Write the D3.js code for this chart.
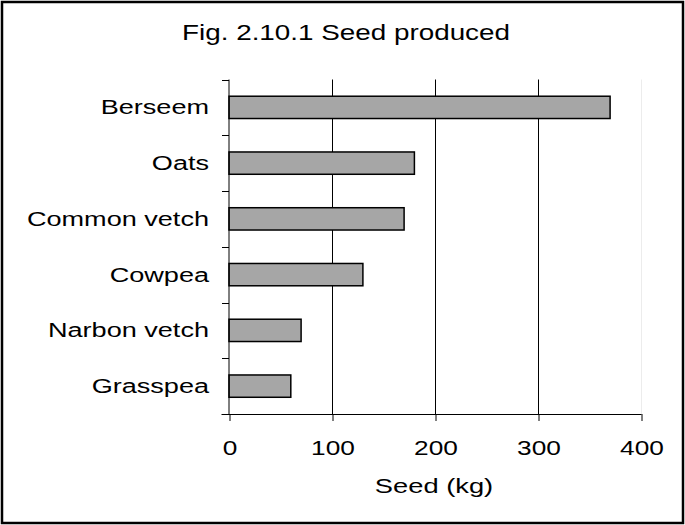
<!DOCTYPE html>
<html><head><meta charset="utf-8">
<script src="https://cdn.jsdelivr.net/npm/d3@7"></script>
<style>body{margin:0;background:#fff}svg{display:block}text{font-family:"Liberation Sans",Arial,sans-serif;fill:#000}</style>
</head><body>
<script>
const categories = ["Berseem","Oats","Common vetch","Cowpea","Narbon vetch","Grasspea"];
const seedValues = [370,180,170,130,70,60];
const xTicks = [0,100,200,300,400];
const title = "Fig. 2.10.1 Seed produced";
const xTitle = "Seed (kg)";

(function(){
const W=685,H=525;
const svg=d3.select("body").append("svg").attr("width",W).attr("height",H);
svg.append("rect").attr("x",2).attr("y",2).attr("width",681).attr("height",521)
  .attr("fill","#fff").attr("stroke","#000").attr("stroke-width",2.5);

const pL=229,pR=641,pT=79.5,pB=414;
const x=d3.scaleLinear().domain([0,400]).range([pL,pR]);
const y=d3.scaleBand().domain(categories).range([pT,pB]).paddingInner(0.6).paddingOuter(0.3);
const yb=d3.scaleBand().domain(categories).range([pT,pB]);

svg.append("text").attr("transform","translate(346,39.5) scale(1.265,1)")
  .attr("text-anchor","middle").attr("font-size",22).text(title);

// gridlines
svg.selectAll("line.grid").data(xTicks.filter(d=>d>0)).join("line")
  .attr("x1",d=>x(d)+0.5).attr("x2",d=>x(d)+0.5).attr("y1",pT).attr("y2",pB)
  .attr("stroke",d=>d===400?"#ececec":"#000").attr("stroke-width",1);

// bars
svg.selectAll("rect.bar").data(categories).join("rect")
  .attr("x",x(0)).attr("y",d=>y(d)).attr("width",(d,i)=>x(seedValues[i])-x(0)).attr("height",y.bandwidth())
  .attr("fill","#a6a6a6").attr("stroke","#000").attr("stroke-width",1.5);

// y axis
const gy=svg.append("g").attr("transform",`translate(${pL},0)`);
gy.append("line").attr("x1",0).attr("x2",0).attr("y1",pT).attr("y2",pB).attr("stroke","#000");
const bounds=categories.map(c=>yb(c)).concat([pB]);
gy.selectAll("line.t").data(bounds).join("line").attr("x1",-7).attr("x2",0)
  .attr("y1",d=>Math.round(d)+0.5).attr("y2",d=>Math.round(d)+0.5).attr("stroke","#000");
gy.selectAll("text").data(categories).join("text")
  .attr("transform",d=>`translate(-20,${yb(d)+yb.bandwidth()/2}) scale(1.29,1)`)
  .attr("dy","0.33em").attr("text-anchor","end").attr("font-size",21).text(d=>d);

// x axis
const xAxis=d3.axisBottom(x).tickValues(xTicks).tickSize(7).tickPadding(19);
const gx=svg.append("g").attr("transform",`translate(0.5,${pB})`).call(xAxis);
gx.select(".domain").attr("stroke","#000").attr("d",`M${pL-8},0.5H${pR}`);
gx.selectAll(".tick line").attr("stroke","#000");
gx.selectAll(".tick text").attr("font-size",21).attr("font-family","Liberation Sans, Arial, sans-serif")
  .attr("fill","#000").attr("transform","scale(1.25,1)");

svg.append("text").attr("transform","translate(434,493) scale(1.3,1)")
  .attr("text-anchor","middle").attr("font-size",21).text(xTitle);
})();
</script>
</body></html>
